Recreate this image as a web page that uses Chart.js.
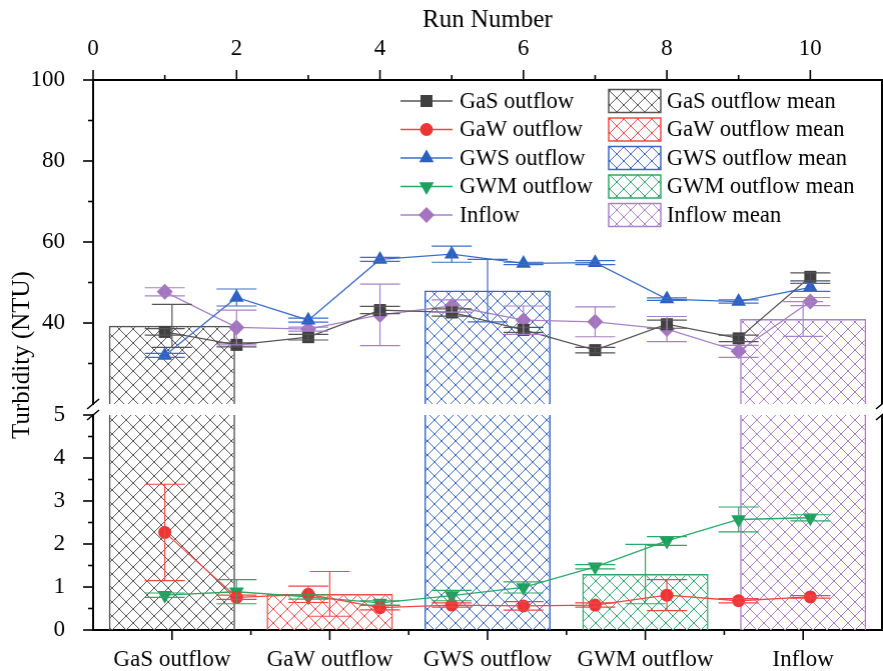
<!DOCTYPE html>
<html>
<head>
<meta charset="utf-8">
<script src="https://cdn.jsdelivr.net/npm/chart.js@4.4.1/dist/chart.umd.min.js"></script>
<style>
  html, body { margin: 0; padding: 0; background: #fff; overflow: hidden; }
  #wrap { width: 883px; height: 671px; }
</style>
</head>
<body>
<div id="wrap"><canvas id="chart"></canvas></div>
<script>
// run-by-run turbidity (NTU) with standard deviations
const runs = [1, 2, 3, 4, 5, 6, 7, 8, 9, 10];
const gasOutflow = [37.8, 34.6, 36.5, 43.2, 42.6, 38.3, 33.3, 39.7, 36.2, 51.4];
const gasErr     = [0.8, 0.5, 0.7, 0.9, 0.9, 0.6, 0.7, 1.0, 0.8, 1.0];
const gawOutflow = [2.27, 0.76, 0.83, 0.52, 0.58, 0.56, 0.58, 0.81, 0.68, 0.77];
const gawErr     = [1.12, 0.05, 0.19, 0.05, 0.05, 0.10, 0.05, 0.36, 0.05, 0.03];
const gwsOutflow = [32.0, 46.3, 40.7, 55.7, 57.0, 54.7, 54.9, 45.9, 45.3, 48.8];
const gwsErr     = [0.5, 2.1, 0.5, 0.5, 2.0, 0.3, 0.5, 0.3, 0.4, 1.0];
const gwmOutflow = [0.81, 0.89, 0.77, 0.63, 0.80, 0.99, 1.47, 2.07, 2.57, 2.61];
const gwmErr     = [0.05, 0.28, 0.05, 0.05, 0.12, 0.13, 0.05, 0.10, 0.29, 0.07];
const inflow     = [47.7, 38.9, 38.5, 42.0, 44.2, 40.7, 40.3, 38.5, 33.0, 45.3];
const inflowErr  = [1.0, 4.3, 0.5, 7.6, 1.5, 3.5, 3.7, 3.1, 1.5, 1.0];

// means per source
const groups     = ['GaS outflow', 'GaW outflow', 'GWS outflow', 'GWM outflow', 'Inflow'];
const groupMeans = [39.3, 0.84, 48.0, 1.30, 41.0];
const groupErr   = [5.3, 0.52, 7.7, 0.69, 4.3];

// axes
const runTicks   = [0, 2, 4, 6, 8, 10];
const runRange   = [0, 11];
const upperTicks = [40, 60, 80, 100];
const lowerTicks = [0, 1, 2, 3, 4, 5];
const upperRange = [20, 100];
const lowerRange = [0, 5];

const FONT = 'Liberation Serif';
Chart.defaults.font.family = FONT;
Chart.defaults.font.size = 23;
Chart.defaults.color = '#000';

const series = [
  { label: 'GaS outflow', data: gasOutflow, err: gasErr, line: '#555555', fill: '#404040', style: 'rect', r: 8.5, rot: 0 },
  { label: 'GaW outflow', data: gawOutflow, err: gawErr, line: '#f04545', fill: '#ee3535', style: 'circle', r: 6.5, rot: 0 },
  { label: 'GWS outflow', data: gwsOutflow, err: gwsErr, line: '#3a6cc8', fill: '#2c60bd', style: 'triangle', r: 8.5, rot: 0 },
  { label: 'GWM outflow', data: gwmOutflow, err: gwmErr, line: '#2aa868', fill: '#1f9f5e', style: 'triangle', r: 8.5, rot: 180 },
  { label: 'Inflow', data: inflow, err: inflowErr, line: '#a781c6', fill: '#a474be', style: 'rectRot', r: 8, rot: 0 }
];
const barColors = ['#555555', '#f04a4a', '#3a68c4', '#2fa76a', '#a882c8'];

function hatch(color) {
  const c = document.createElement('canvas');
  c.width = 14; c.height = 14;
  const g = c.getContext('2d');
  g.strokeStyle = color;
  g.lineWidth = 1;
  g.beginPath();
  g.moveTo(-1, -1); g.lineTo(15, 15);
  g.moveTo(15, -1); g.lineTo(-1, 15);
  g.stroke();
  return g.createPattern(c, 'repeat');
}
const barPatterns = barColors.map(hatch);

const axisFor = v => (v > lowerRange[1] ? 'yUp' : 'yLow');

const lineSets = series.map(s => ({
  type: 'line',
  label: s.label,
  data: runs.map((r, i) => ({ x: r, y: s.data[i] })),
  xAxisID: 'xRun',
  yAxisID: axisFor(Math.min(...s.data)),
  borderColor: s.line,
  borderWidth: 1.3,
  pointStyle: s.style,
  pointRadius: s.r,
  pointRotation: s.rot,
  pointBackgroundColor: s.fill,
  pointBorderWidth: 0,
  order: 1
}));

const bw = 1.5;
const barSets = [
  {
    type: 'bar',
    label: 'mean (lower)',
    data: groupMeans.map(v => Math.min(v, lowerRange[1])),
    xAxisID: 'xCat', yAxisID: 'yLow',
    backgroundColor: barPatterns, borderColor: barColors,
    borderSkipped: false,
    borderWidth: ctx => ({ left: bw, right: bw, bottom: 0, top: groupMeans[ctx.dataIndex] > lowerRange[1] ? 0 : bw }),
    categoryPercentage: 0.8, barPercentage: 1, grouped: false, order: 5
  },
  {
    type: 'bar',
    label: 'mean (upper)',
    data: groupMeans.map(v => (v > lowerRange[1] ? [upperRange[0], v] : null)),
    xAxisID: 'xCat', yAxisID: 'yUp',
    backgroundColor: barPatterns, borderColor: barColors,
    borderSkipped: false,
    borderWidth: { left: bw, right: bw, bottom: 0, top: bw },
    categoryPercentage: 0.8, barPercentage: 1, grouped: false, order: 5
  }
];

function seg(ctx, x1, y1, x2, y2) {
  ctx.beginPath(); ctx.moveTo(x1, y1); ctx.lineTo(x2, y2); ctx.stroke();
}

const errorBars = {
  id: 'errorBars',
  afterDatasetsDraw(chart) {
    const { ctx, scales } = chart;
    const cap = 20;
    ctx.save();
    ctx.lineWidth = 1.2;
    series.forEach(s => {
      const ys = scales[axisFor(Math.min(...s.data))];
      ctx.strokeStyle = s.line;
      runs.forEach((r, i) => {
        const x = scales.xRun.getPixelForValue(r);
        const y1 = ys.getPixelForValue(s.data[i] + s.err[i]);
        const y2 = ys.getPixelForValue(s.data[i] - s.err[i]);
        seg(ctx, x, y1, x, y2);
        seg(ctx, x - cap, y1, x + cap, y1);
        seg(ctx, x - cap, y2, x + cap, y2);
      });
    });
    groupMeans.forEach((v, i) => {
      const ys = scales[axisFor(v)];
      const x = scales.xCat.getPixelForValue(i);
      const y1 = ys.getPixelForValue(v + groupErr[i]);
      const y2 = ys.getPixelForValue(v - groupErr[i]);
      ctx.strokeStyle = barColors[i];
      seg(ctx, x, y1, x, y2);
      seg(ctx, x - cap, y1, x + cap, y1);
      seg(ctx, x - cap, y2, x + cap, y2);
    });
    ctx.restore();
  }
};

const frame = {
  id: 'frame',
  afterDraw(chart) {
    const { ctx, chartArea: a, scales: { xRun, xCat, yUp, yLow } } = chart;
    ctx.save();
    ctx.strokeStyle = '#000';
    ctx.lineWidth = 1.6;
    // tick marks, majors from the tick lists, minors halfway
    runTicks.forEach((v, i) => {
      const x = xRun.getPixelForValue(v);
      seg(ctx, x, a.top, x, a.top - 10);
      if (i < runTicks.length - 1) {
        const xm = xRun.getPixelForValue((v + runTicks[i + 1]) / 2);
        seg(ctx, xm, a.top, xm, a.top - 5);
      }
    });
    upperTicks.forEach(v => {
      const y = yUp.getPixelForValue(v);
      seg(ctx, a.left, y, a.left - 10, y);
      const ym = yUp.getPixelForValue(v - 10);
      seg(ctx, a.left, ym, a.left - 5, ym);
    });
    lowerTicks.forEach((v, i) => {
      const y = yLow.getPixelForValue(v);
      seg(ctx, a.left, y, a.left - 10, y);
      if (i < lowerTicks.length - 1) {
        const ym = yLow.getPixelForValue((v + lowerTicks[i + 1]) / 2);
        seg(ctx, a.left, ym, a.left - 5, ym);
      }
    });
    groups.forEach((g, i) => {
      const x = xCat.getPixelForValue(i);
      seg(ctx, x, a.bottom, x, a.bottom + 10);
      if (i < groups.length - 1) {
        const xm = (x + xCat.getPixelForValue(i + 1)) / 2;
        seg(ctx, xm, a.bottom, xm, a.bottom + 5);
      }
    });
    // right frame line with the break gap
    ctx.lineWidth = 2;
    seg(ctx, a.right, yUp.top, a.right, yUp.bottom);
    seg(ctx, a.right, yLow.top, a.right, yLow.bottom);
    // break marks
    ctx.lineWidth = 1.6;
    [a.left, a.right].forEach(x => {
      [yUp.bottom, yLow.top].forEach(y => seg(ctx, x - 6, y + 5, x + 6, y - 5));
    });
    // axis titles
    ctx.fillStyle = '#000';
    ctx.font = '25px "' + FONT + '"';
    ctx.textAlign = 'center';
    ctx.textBaseline = 'middle';
    ctx.fillText('Run Number', (a.left + a.right) / 2, 20);
    ctx.translate(22, (a.top + a.bottom) / 2);
    ctx.rotate(-Math.PI / 2);
    ctx.fillText('Turbidity (NTU)', 0, 0);
    ctx.restore();
  }
};

const legendBox = {
  id: 'legendBox',
  afterDraw(chart) {
    const { ctx } = chart;
    const rowY = [101, 129.5, 158, 186.5, 215];
    ctx.save();
    ctx.font = '22.5px "' + FONT + '"';
    ctx.textBaseline = 'middle';
    ctx.textAlign = 'left';
    series.forEach((s, i) => {
      const y = rowY[i];
      ctx.strokeStyle = s.line;
      ctx.lineWidth = 1.3;
      seg(ctx, 400, y, 452, y);
      ctx.fillStyle = s.fill;
      Chart.helpers.drawPoint(ctx, { pointStyle: s.style, radius: s.r, rotation: s.rot, borderWidth: 0 }, 426, y);
      ctx.fillStyle = '#000';
      ctx.fillText(s.label, 459, y + 1);
    });
    groups.forEach((g, i) => {
      const y = rowY[i];
      ctx.fillStyle = barPatterns[i];
      ctx.fillRect(608, y - 11.5, 52, 23);
      ctx.strokeStyle = barColors[i];
      ctx.lineWidth = 1.5;
      ctx.strokeRect(608, y - 11.5, 52, 23);
      ctx.fillStyle = '#000';
      ctx.fillText(g + ' mean', 666, y + 1);
    });
    ctx.restore();
  }
};

const leftFit = s => { s.width = 93; };

const chart = new Chart(document.getElementById('chart'), {
  data: { datasets: [...barSets, ...lineSets] },
  options: {
    responsive: true,
    maintainAspectRatio: false,
    animation: false,
    layout: { padding: { left: 0, top: 0, right: 2, bottom: 0 } },
    plugins: { legend: { display: false }, tooltip: { enabled: false } },
    scales: {
      xRun: {
        type: 'linear', position: 'top', min: runRange[0], max: runRange[1],
        afterBuildTicks: s => { s.ticks = runTicks.map(v => ({ value: v })); },
        afterFit: s => { s.height = 80; },
        grid: { display: false },
        border: { display: true, color: '#000', width: 2 },
        ticks: { padding: 9, maxRotation: 0, autoSkip: false }
      },
      xCat: {
        type: 'category', position: 'bottom', labels: groups, offset: true,
        afterFit: s => { s.height = 41; },
        grid: { display: false },
        border: { display: true, color: '#000', width: 2 },
        ticks: { padding: 8, maxRotation: 0, autoSkip: false }
      },
      yUp: {
        type: 'linear', position: 'left', stack: 'turb', stackWeight: 324, weight: 3,
        min: upperRange[0], max: upperRange[1],
        afterBuildTicks: s => { s.ticks = upperTicks.map(v => ({ value: v })); },
        afterFit: leftFit,
        grid: { display: false },
        border: { display: true, color: '#000', width: 2 },
        ticks: { padding: 20, autoSkip: false }
      },
      yGap: {
        type: 'linear', position: 'left', stack: 'turb', stackWeight: 11, weight: 2,
        afterFit: leftFit,
        grid: { display: false },
        border: { display: false },
        ticks: { display: false }
      },
      yLow: {
        type: 'linear', position: 'left', stack: 'turb', stackWeight: 215, weight: 1,
        min: lowerRange[0], max: lowerRange[1],
        afterBuildTicks: s => { s.ticks = lowerTicks.map(v => ({ value: v })); },
        afterFit: leftFit,
        grid: { display: false },
        border: { display: true, color: '#000', width: 2 },
        ticks: { padding: 20, autoSkip: false }
      }
    }
  },
  plugins: [errorBars, frame, legendBox]
});

// the layout keeps a few pixels on the right; widen the canvas so the plot frame ends at x = 881
const extra = 881 - chart.chartArea.right;
if (extra > 0.5) {
  const wrap = document.getElementById('wrap');
  wrap.style.width = (883 + extra) + 'px';
  chart.resize(883 + extra, 671);
}
</script>
</body>
</html>
